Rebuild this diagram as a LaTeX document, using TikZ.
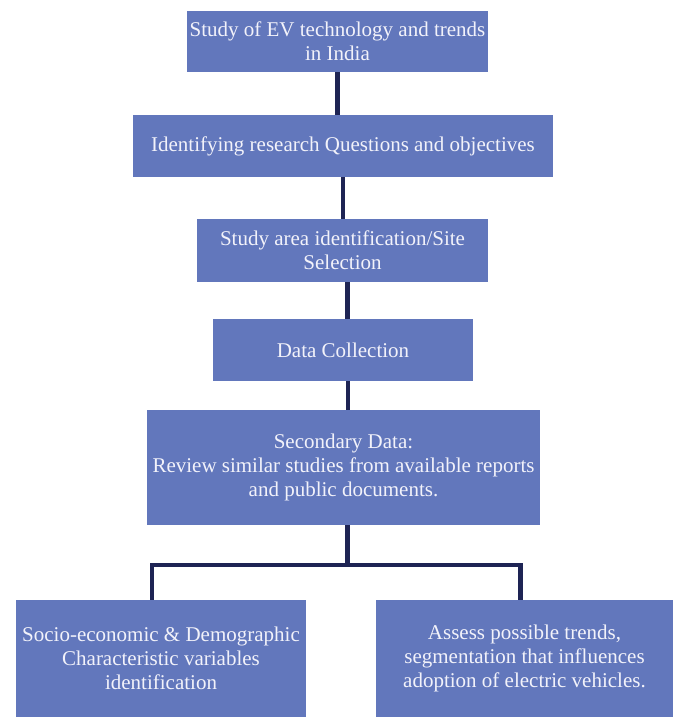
\documentclass[tikz,border=0pt]{standalone}
\usepackage{fontspec}
\setmainfont{Liberation Serif}
\usepackage{xcolor}
\definecolor{boxblue}{HTML}{6277BC}
\definecolor{linknavy}{HTML}{1E2454}
\definecolor{boxtext}{HTML}{F2F2FA}
\usetikzlibrary{positioning, calc}

\begin{document}
\begin{tikzpicture}[x=1pt, y=-1pt,
  stage/.style={fill=boxblue, text=boxtext, align=center, inner sep=0pt,
    font=\fontsize{21}{24}\selectfont},
  link/.style={draw=linknavy, line width=4.5pt}
]
  \useasboundingbox (0,0) rectangle (681,717);

  % Stages
  \node[stage, minimum width=301, minimum height=61] (ev) at (337.5,41.5)
    {Study of EV technology and trends\\in India};
  \node[stage, minimum width=420, minimum height=62] (rq) at (343,146)
    {Identifying research Questions and objectives};
  \node[stage, minimum width=291, minimum height=63] (site) at (342.5,250.5)
    {Study area identification/Site\\Selection};
  \node[stage, minimum width=260, minimum height=62] (data) at (343,350)
    {Data Collection};
  \node[stage, minimum width=393, minimum height=115] (sec) at (343.5,467.5)
    {Secondary Data:\\Review similar studies from available reports\\and public documents.};
  \node[stage, minimum width=290, minimum height=117] (socio) at (161,658.5)
    {Socio-economic \& Demographic\\Characteristic variables\\identification};
  \node[stage, minimum width=297, minimum height=117] (trend) at (524.5,658.5)
    {Assess possible trends,\\segmentation that influences\\adoption of electric vehicles.};

  % Connectors
  \draw[link] (ev.south) -- (ev.south |- rq.north);
  \draw[link] (rq.south) -- (rq.south |- site.north);
  \draw[link] ([xshift=5pt]site.south) -- ([xshift=5pt]site.south |- data.north);
  \draw[link] ([xshift=5pt]data.south) -- ([xshift=5pt]data.south |- sec.north);

  % Split to the two branches
  \coordinate (split) at ($([xshift=4pt]sec.south)+(0,40)$);
  \draw[link] ([xshift=4pt]sec.south) -- (split);
  \draw[link] (split) -| ([xshift=-9pt]socio.north);
  \draw[link] (split) -| ([xshift=-4pt]trend.north);
\end{tikzpicture}
\end{document}
